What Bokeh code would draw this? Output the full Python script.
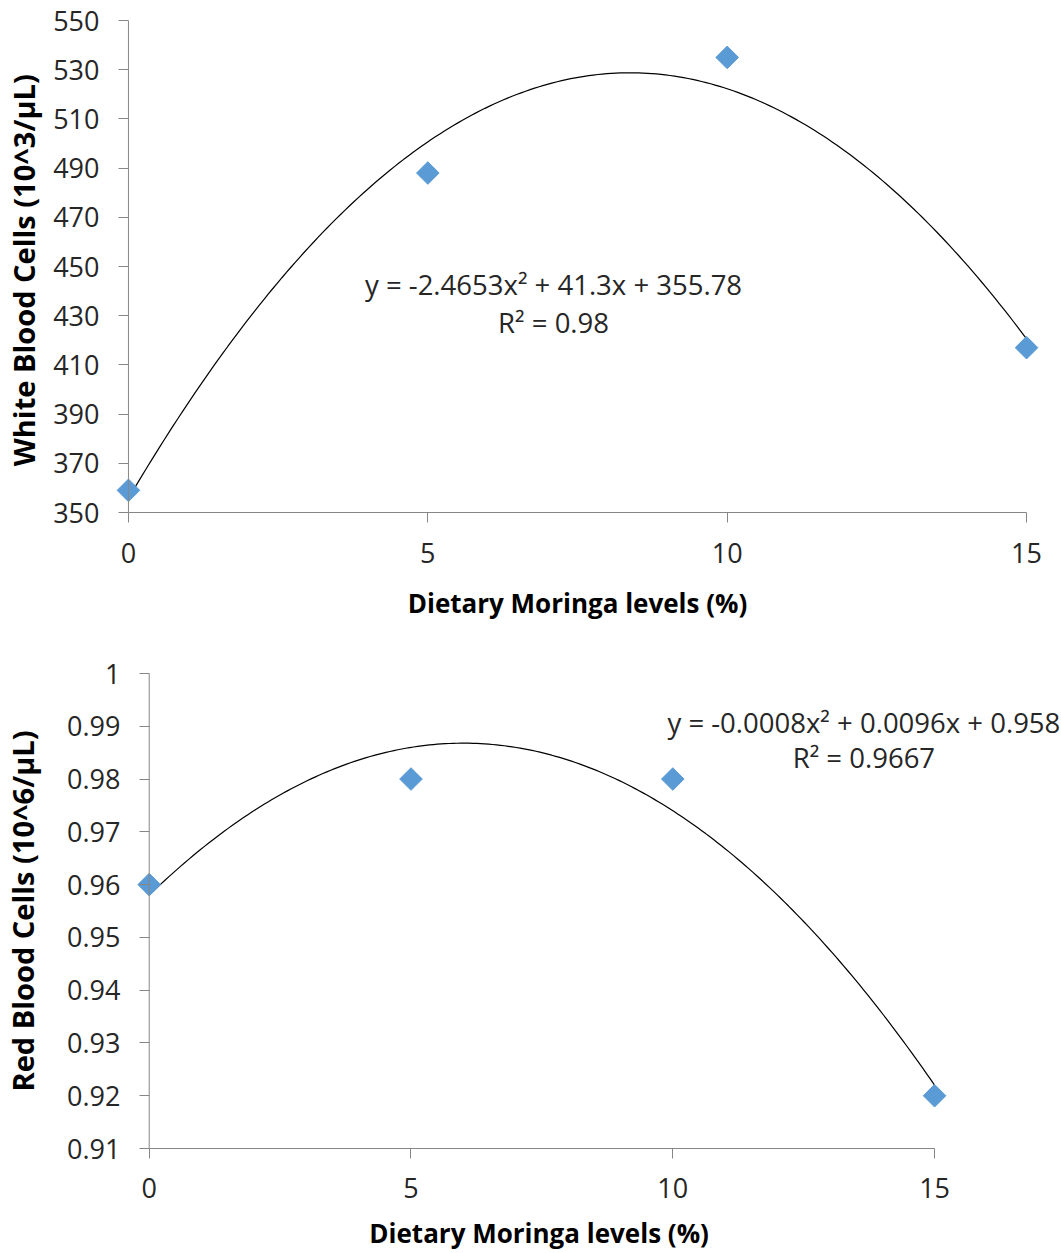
import numpy as np
from bokeh.plotting import figure
from bokeh.models import Range1d, FixedTicker, Label, Span
from bokeh.embed import file_html
from bokeh.resources import INLINE

# ---- data ----
levels = [0, 5, 10, 15]
wbc = [359, 488, 535, 417]
rbc = [0.96, 0.98, 0.98, 0.92]
wbc_coef = [-2.4653, 41.3, 355.78]
rbc_coef = [-0.0008, 0.0096, 0.958]
x_ticks = [0, 5, 10, 15]
wbc_ticks = [350, 370, 390, 410, 430, 450, 470, 490, 510, 530, 550]
rbc_ticks = [0.91, 0.92, 0.93, 0.94, 0.95, 0.96, 0.97, 0.98, 0.99, 1.0]
rbc_tick_labels = ["0.91", "0.92", "0.93", "0.94", "0.95", "0.96", "0.97", "0.98", "0.99", "1"]
x_title = "Dietary Moringa levels (%)"
wbc_title = "White Blood Cells  (10^3/\u03bcL)"
rbc_title = "Red Blood Cells (10^6/\u03bcL)"
wbc_eq = "y = -2.4653x\u00b2 + 41.3x + 355.78"
wbc_r2 = "R\u00b2 = 0.98"
rbc_eq = "y = -0.0008x\u00b2 + 0.0096x + 0.958"
rbc_r2 = "R\u00b2 = 0.9667"

FONT = "Open Sans"
AXIS_COL = "#868686"
TICK_COL = "#262626"
BLUE = "#5B9BD5"


def style(p, xticks, yticks, ylabels, xtitle, ytitle, ytick_in, ytick_out, ytick_standoff,
          ylab_standoff, xtick_standoff, xlab_standoff):
    p.outline_line_color = None
    p.xgrid.visible = False
    p.ygrid.visible = False
    xa = p.xaxis[0]
    ya = p.yaxis[0]
    xa.bounds = (xticks[0], xticks[-1])
    ya.bounds = (yticks[0], yticks[-1])
    xa.ticker = FixedTicker(ticks=xticks)
    ya.ticker = FixedTicker(ticks=yticks)
    if ylabels is not None:
        ya.major_label_overrides = {t: l for t, l in zip(yticks, ylabels)}
    for a in (xa, ya):
        a.major_tick_line_color = AXIS_COL
        a.minor_tick_line_color = None
        a.major_label_text_font = FONT
        a.major_label_text_font_size = "27px"
        a.major_label_text_color = TICK_COL
        a.axis_label_text_font = FONT
        a.axis_label_text_font_style = "bold"
        a.axis_label_text_color = "#000000"
    xa.axis_label_text_font_size = "26px"
    ya.axis_label_text_font_size = "29px"
    xa.axis_line_color = AXIS_COL
    xa.major_tick_out = 10
    xa.major_tick_in = 0
    # y axis line is drawn at x = 0 with a span; ticks shifted onto it
    ya.axis_line_color = None
    ya.major_tick_in = ytick_in
    ya.major_tick_out = ytick_out
    xa.major_label_standoff = xtick_standoff
    ya.major_label_standoff = ytick_standoff
    xa.axis_label = xtitle
    ya.axis_label = ytitle
    xa.axis_label_standoff = xlab_standoff
    ya.axis_label_standoff = ylab_standoff
    p.add_layout(Span(location=xticks[0], dimension="height", line_color=AXIS_COL, line_width=1))


def trend(coef, x0, x1):
    xs = np.linspace(x0, x1, 200)
    ys = np.polyval(coef, xs)
    return xs, ys


# ---- top chart ----
p1 = figure(width=1061, height=640, x_range=Range1d(-0.25, 15.25), y_range=Range1d(350, 550),
            output_backend="svg", toolbar_location=None,
            min_border_left=113, min_border_right=20, min_border_top=20, min_border_bottom=128)
style(p1, x_ticks, wbc_ticks, None, x_title, wbc_title, 15, -5, 14, 7, 20, 19)
tx, ty = trend(wbc_coef, levels[0], levels[-1])
p1.line(tx, ty, line_color="#000000", line_width=1.2)
p1.scatter(levels, wbc, marker="square", angle=np.pi / 4, size=16, fill_color=BLUE, line_color=BLUE)
p1.add_layout(Label(x=7.1, y=442.5, text=wbc_eq, text_align="center", text_baseline="middle",
                    text_font=FONT, text_font_size="27.5px", text_color=TICK_COL))
p1.add_layout(Label(x=7.1, y=427.4, text=wbc_r2, text_align="center", text_baseline="middle",
                    text_font=FONT, text_font_size="27.5px", text_color=TICK_COL))

# ---- bottom chart ----
# the frame runs on to the right edge so that the equation text is not clipped;
# trailing no-break spaces keep the axis title centred under the 0-15 axis
p2 = figure(width=1061, height=613, x_range=Range1d(-0.3, 17.386), y_range=Range1d(0.91, 1.0),
            output_backend="svg", toolbar_location=None,
            min_border_left=131, min_border_right=2, min_border_top=33, min_border_bottom=104)
style(p2, x_ticks, rbc_ticks, rbc_tick_labels, x_title + "\u00a0" * 17, rbc_title,
      16, -6, 13, 22, 19, 14)
tx2, ty2 = trend(rbc_coef, levels[0], levels[-1])
p2.line(tx2, ty2, line_color="#000000", line_width=1.2)
p2.scatter(levels, rbc, marker="square", angle=np.pi / 4, size=16, fill_color=BLUE, line_color=BLUE)
p2.add_layout(Label(x=13.65, y=0.9907, text=rbc_eq, text_align="center", text_baseline="middle",
                    text_font=FONT, text_font_size="27.5px", text_color=TICK_COL))
p2.add_layout(Label(x=13.65, y=0.984, text=rbc_r2, text_align="center", text_baseline="middle",
                    text_font=FONT, text_font_size="27.5px", text_color=TICK_COL))

open("out.html", "w").write(file_html([p1, p2], INLINE))
